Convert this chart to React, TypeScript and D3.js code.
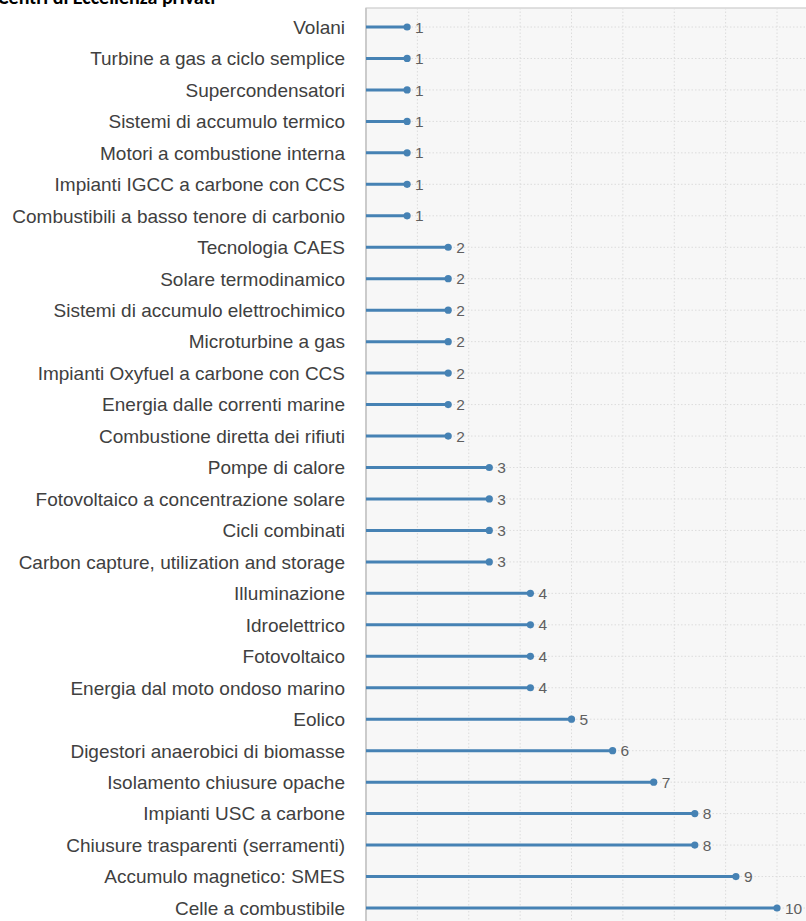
import React from "react";
import * as d3 from "d3";

const categories = [
  "Volani",
  "Turbine a gas a ciclo semplice",
  "Supercondensatori",
  "Sistemi di accumulo termico",
  "Motori a combustione interna",
  "Impianti IGCC a carbone con CCS",
  "Combustibili a basso tenore di carbonio",
  "Tecnologia CAES",
  "Solare termodinamico",
  "Sistemi di accumulo elettrochimico",
  "Microturbine a gas",
  "Impianti Oxyfuel a carbone con CCS",
  "Energia dalle correnti marine",
  "Combustione diretta dei rifiuti",
  "Pompe di calore",
  "Fotovoltaico a concentrazione solare",
  "Cicli combinati",
  "Carbon capture, utilization and storage",
  "Illuminazione",
  "Idroelettrico",
  "Fotovoltaico",
  "Energia dal moto ondoso marino",
  "Eolico",
  "Digestori anaerobici di biomasse",
  "Isolamento chiusure opache",
  "Impianti USC a carbone",
  "Chiusure trasparenti (serramenti)",
  "Accumulo magnetico: SMES",
  "Celle a combustibile",
];
const values = [1, 1, 1, 1, 1, 1, 1, 2, 2, 2, 2, 2, 2, 2, 3, 3, 3, 3, 4, 4, 4, 4, 5, 6, 7, 8, 8, 9, 10];
const gridValues = [1.25, 2.5, 3.75, 5, 6.25, 7.5, 8.75, 10];
const title = "Centri di Eccellenza privati";

export default function App() {
  const W = 806;
  const H = 921;
  const left = 366;
  const top = 8;
  const x = d3.scaleLinear().domain([0, 10]).range([left, 777]);
  const y = d3
    .scalePoint<string>()
    .domain(categories)
    .range([27, 908]);
  const font = "'Liberation Sans', Arial, sans-serif";
  return (
    <svg
      width={W}
      height={H}
      style={{ position: "absolute", left: 0, top: 0, background: "#fff" }}
    >
      <rect x={left} y={top} width={W - left + 5} height={H} fill="#f7f7f7" stroke="#cccccc" strokeWidth={1.2} />
      {gridValues.map((g) => (
        <line
          key={"gx" + g}
          x1={x(g)}
          x2={x(g)}
          y1={top}
          y2={H}
          stroke="#dcdcdc"
          strokeWidth={1}
          strokeDasharray="1.5,2"
        />
      ))}
      {categories.map((c) => (
        <line
          key={"gy" + c}
          x1={left}
          x2={W}
          y1={y(c)}
          y2={y(c)}
          stroke="#dcdcdc"
          strokeWidth={1}
          strokeDasharray="1.5,2"
        />
      ))}
      <line x1={left} x2={left} y1={top} y2={H} stroke="#c4c4c4" strokeWidth={1.5} />
      {categories.map((c, i) => {
        const yy = y(c)!;
        return (
          <g key={c}>
            <line x1={x(0)} x2={x(values[i])} y1={yy} y2={yy} stroke="#4682b4" strokeWidth={3} />
            <circle cx={x(values[i])} cy={yy} r={3.6} fill="#4682b4" />
            <text
              x={x(values[i]) + 8}
              y={yy}
              dy="0.36em"
              fontFamily={font}
              fontSize={15.5}
              fill="#5f5f5f"
            >
              {values[i]}
            </text>
            <text
              x={345}
              y={yy}
              dy="0.36em"
              textAnchor="end"
              fontFamily={font}
              fontSize={19}
              fill="#404040"
            >
              {c}
            </text>
          </g>
        );
      })}
      <text x={-2} y={4} fontFamily="Carlito, 'Open Sans', sans-serif" fontWeight="bold" fontSize={20} fill="#000">
        {title}
      </text>
    </svg>
  );
}
